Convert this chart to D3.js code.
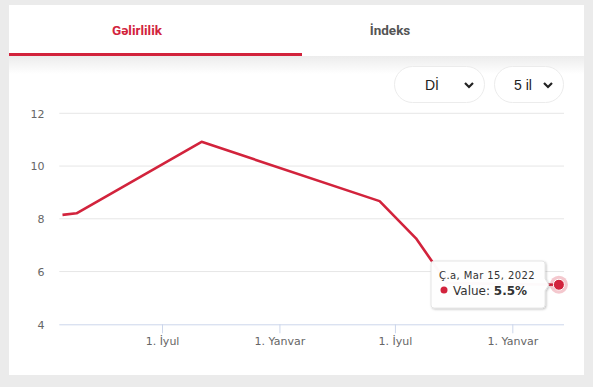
<!DOCTYPE html>
<html><head><meta charset="utf-8">
<script src="https://cdn.jsdelivr.net/npm/d3@7"></script>
<style>
html,body{margin:0;padding:0;background:#ebebeb;}
svg{display:block;}
</style></head>
<body>
<svg id="c" width="593" height="387"></svg>
<script>
const tabs = ["Gəlirlilik", "İndeks"];
const selects = ["Dİ", "5 il"];
const dates = ["2020-01-27", "2020-02-18", "2020-09-01", "2021-06-07", "2021-08-03", "2021-09-21", "2022-03-15"];
const values = [8.15, 8.21, 10.92, 8.67, 7.26, 5.56, 5.5];
const yTicks = [4, 6, 8, 10, 12];
const xTicks = ["2020-07-01", "2021-01-01", "2021-07-01", "2022-01-01"];
const xTickLabels = ["1. İyul", "1. Yanvar", "1. İyul", "1. Yanvar"];
const xDomain = ["2020-01-22", "2022-03-23"];
const tooltipDate = "Ç.a, Mar 15, 2022";
const tooltipLabel = "Value: ";
const tooltipValue = "5.5%";

(function(){
const parse = d3.utcParse("%Y-%m-%d");
const red = "#d2233c";
const svg = d3.select("#c");

const defs = svg.append("defs");
const g1 = defs.append("linearGradient").attr("id","hs").attr("x1",0).attr("y1",0).attr("x2",0).attr("y2",1);
g1.append("stop").attr("offset","0").attr("stop-color","#ececec");
g1.append("stop").attr("offset","1").attr("stop-color","#ffffff");
const f = defs.append("filter").attr("id","sh").attr("x","-20%").attr("y","-20%").attr("width","150%").attr("height","160%");
f.append("feDropShadow").attr("dx",1).attr("dy",1).attr("stdDeviation",1.2).attr("flood-color","#000").attr("flood-opacity",0.25);

// card
svg.append("rect").attr("x",9).attr("y",5).attr("width",575).attr("height",370).attr("fill","#fff");
// header shadow
svg.append("rect").attr("x",9).attr("y",56).attr("width",575).attr("height",18).attr("fill","url(#hs)");
// tabs
svg.append("rect").attr("x",9).attr("y",53).attr("width",293).attr("height",3).attr("fill",red);
const tabX = [137, 390];
svg.selectAll(".tab").data(tabs).join("text")
  .attr("x",(d,i)=>tabX[i]).attr("y",35).attr("text-anchor","middle")
  .attr("font-family","Roboto, sans-serif").attr("font-weight","bold").attr("font-size",13.5)
  .attr("fill",(d,i)=>i===0?red:"#555").text(d=>d);

// selects
const selBox = [[394,90],[494,69]];
selects.forEach((s,i)=>{
  const [x0,w] = selBox[i];
  svg.append("rect").attr("x",x0+0.5).attr("y",66.5).attr("width",w).attr("height",36).attr("rx",18)
    .attr("fill","#fff").attr("stroke","#ececec");
  svg.append("text").attr("x", i===0? x0+31 : x0+20).attr("y",90)
    .attr("font-family","Liberation Sans, Arial, sans-serif").attr("font-size",14).attr("fill","#222").text(s);
  const cx = x0 + w - 15;
  svg.append("path").attr("d",`M${cx-4},${83}L${cx},${87}L${cx+4},${83}`).attr("fill","none")
    .attr("stroke","#222").attr("stroke-width",2.2);
});

// chart
const pl = 59.3, pr = 564, pt = 113.3, pb = 324.3;
const x = d3.scaleUtc().domain(xDomain.map(parse)).range([pl,pr]);
const y = d3.scaleLinear().domain([4,12]).range([pb,pt]);

const grid = svg.append("g");
grid.selectAll("line").data(yTicks.filter(v=>v!==4)).join("line")
  .attr("x1",pl).attr("x2",pr).attr("y1",d=>y(d)).attr("y2",d=>y(d))
  .attr("stroke","#e6e6e6").attr("stroke-width",1);

const yAxis = d3.axisLeft(y).tickValues(yTicks).tickSize(0).tickPadding(0).tickFormat(d3.format("d"));
const ya = svg.append("g").attr("transform",`translate(${44.5},0)`).call(yAxis);
ya.select(".domain").remove();
ya.selectAll("text").attr("font-family","DejaVu Sans, Verdana, sans-serif").attr("font-size",11).attr("fill","#666").attr("dy","0.35em");

const xAxis = d3.axisBottom(x).tickValues(xTicks.map(parse)).tickSize(9).tickPadding(4)
  .tickFormat((d,i)=>xTickLabels[i]);
const xa = svg.append("g").attr("transform",`translate(0,${pb})`).call(xAxis);
xa.select(".domain").attr("d",`M${pl},0.5H${pr}`).attr("stroke","#ccd6eb");
xa.selectAll(".tick line").attr("stroke","#ccd6eb");
xa.selectAll("text").attr("font-family","DejaVu Sans, Verdana, sans-serif").attr("font-size",11).attr("fill","#666");

const data = dates.map((d,i)=>({d:parse(d), v:values[i]}));
const line = d3.line().x(p=>x(p.d)).y(p=>y(p.v));
svg.append("path").datum(data).attr("d",line).attr("fill","none").attr("stroke",red)
  .attr("stroke-width",2.6).attr("stroke-linejoin","round");

const last = data[data.length-1];
svg.append("circle").attr("cx",x(last.d)).attr("cy",y(last.v)).attr("r",9).attr("fill",red).attr("fill-opacity",0.25);
svg.append("circle").attr("cx",x(last.d)).attr("cy",y(last.v)).attr("r",5.5).attr("fill",red).attr("stroke","#fff").attr("stroke-width",1);

// tooltip
const tx = 431, ty = 261, tw = 114, th = 47;
const px = x(last.d) - 10, py = y(last.v);
const tp = `M${tx+3},${ty}H${tx+tw-3}Q${tx+tw},${ty} ${tx+tw},${ty+3}V${py-6}L${px},${py}L${tx+tw},${py+6}V${ty+th-3}Q${tx+tw},${ty+th} ${tx+tw-3},${ty+th}H${tx+3}Q${tx},${ty+th} ${tx},${ty+th-3}V${ty+3}Q${tx},${ty} ${tx+3},${ty}Z`;
svg.append("path").attr("d",tp).attr("fill","#fff").attr("fill-opacity",0.97).attr("stroke","#e0e0e0").attr("stroke-width",0.8).attr("filter","url(#sh)");
svg.append("text").attr("x",439).attr("y",279).attr("font-family","DejaVu Sans, Verdana, sans-serif")
  .attr("font-size",10).attr("fill","#333").attr("letter-spacing",0.4).text(tooltipDate);
svg.append("circle").attr("cx",444).attr("cy",290).attr("r",3.5).attr("fill",red);
const t2 = svg.append("text").attr("x",453).attr("y",294.5).attr("font-family","DejaVu Sans, Verdana, sans-serif")
  .attr("font-size",12).attr("fill","#333");
t2.append("tspan").text(tooltipLabel);
t2.append("tspan").attr("font-weight","bold").text(tooltipValue);
})();
</script>
</body></html>
